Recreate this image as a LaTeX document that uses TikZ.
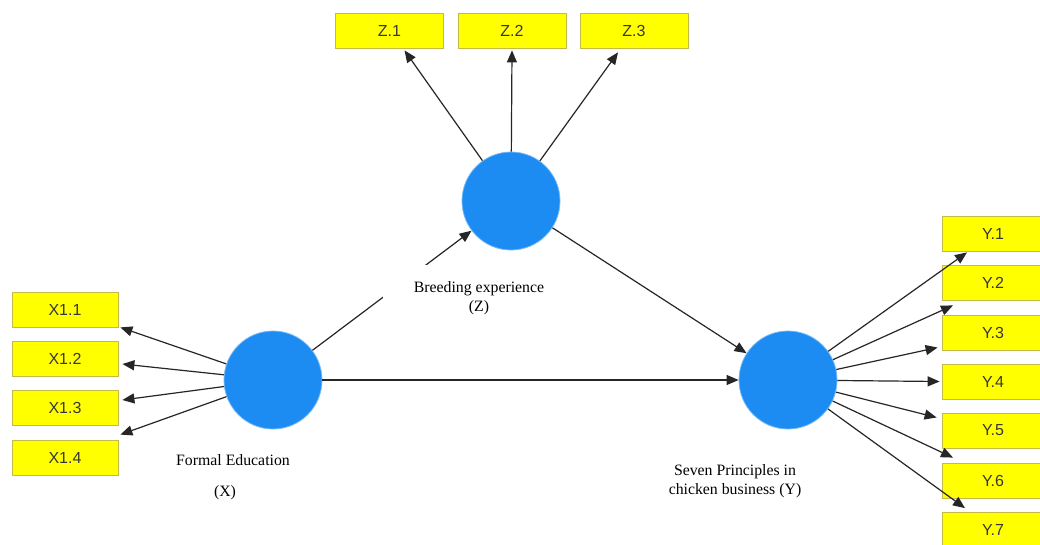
\documentclass[tikz,border=0pt]{standalone}
\usepackage{fontspec}
\setmainfont{Liberation Serif}
\setsansfont{Liberation Sans}
\usetikzlibrary{arrows.meta,calc}

\definecolor{latentblue}{RGB}{28,140,242}
\definecolor{itemyellow}{RGB}{255,255,0}
\definecolor{itemborder}{RGB}{196,186,70}
\definecolor{itemtext}{RGB}{55,55,55}

\tikzset{
  latent/.style={circle, fill=latentblue, draw=latentblue!60, line width=0.8pt, minimum size=98pt, inner sep=0pt},
  item/.style={rectangle, fill=itemyellow, draw=itemborder, line width=0.8pt, minimum height=35pt, inner sep=0pt,
    font=\sffamily\fontsize{16}{16}\selectfont, text=itemtext},
  loading/.style={line width=1.2pt, black!85, -{Triangle[length=12pt,width=10pt]}},
  caption/.style={font=\fontsize{15.8}{19}\selectfont, align=center},
}

\begin{document}
\begin{tikzpicture}[x=1pt,y=-1pt]
			\useasboundingbox[fill=white] (0,0) rectangle (1040,544);
			\clip (0,0) rectangle (1040,544);

			% Latent variables
			\node[latent] (X) at (273,380) {};
			\node[latent] (Z) at (511,201) {};
			\node[latent] (Y) at (788,380) {};

			% Indicators of X
			\node[item, minimum width=106pt] (x11) at (65,309.5) {X1.1};
			\node[item, minimum width=106pt] (x12) at (65,359) {X1.2};
			\node[item, minimum width=106pt] (x13) at (65,408) {X1.3};
			\node[item, minimum width=106pt] (x14) at (65,457.5) {X1.4};

			% Indicators of Z
			\node[item, minimum width=108pt] (z1) at (389.5,30.5) {Z.1};
			\node[item, minimum width=108pt] (z2) at (512,30.5) {Z.2};
			\node[item, minimum width=108pt] (z3) at (634,30.5) {Z.3};

			% Indicators of Y
			\node[item, minimum width=102pt] (y1) at (993,233.5) {Y.1};
			\node[item, minimum width=102pt] (y2) at (993,282.5) {Y.2};
			\node[item, minimum width=102pt] (y3) at (993,332.5) {Y.3};
			\node[item, minimum width=102pt] (y4) at (993,381.5) {Y.4};
			\node[item, minimum width=102pt] (y5) at (993,430.5) {Y.5};
			\node[item, minimum width=102pt] (y6) at (993,480.5) {Y.6};
			\node[item, minimum width=102pt] (y7) at (993,530) {Y.7};

			% Outer loadings
			\draw[loading] (X) -- ($(x11.south east)+(2,0)$);
			\draw[loading] (X) -- ($(x12.east)+(4,5)$);
			\draw[loading] (X) -- ($(x13.east)+(4,-8)$);
			\draw[loading] (X) -- ($(x14.north east)+(2,-5)$);

			\draw[loading] (Z) -- ($(z1.south)+(15,2)$);
			\draw[loading] (Z) -- ($(z2.south)+(0,2)$);
			\draw[loading] (Z) -- ($(z3.south)+(-16,4)$);

			\draw[loading] (Y) -- ($(y1.south)+(-26,1)$);
			\draw[loading] (Y) -- ($(y2.south)+(-40,5)$);
			\draw[loading] (Y) -- ($(y3.west)+(-4,15)$);
			\draw[loading] (Y) -- ($(y4.west)+(-2,0)$);
			\draw[loading] (Y) -- ($(y5.west)+(-5,-13)$);
			\draw[loading] (Y) -- ($(y6.north)+(-40,-5)$);
			\draw[loading] (Y) -- ($(y7.north)+(-28,-4)$);

			% Inner paths
			\draw[loading] (X) -- (Z);
			\draw[loading] (Z) -- (Y);
			\draw[loading] (X) -- (Y);

			% Labels (the white box hides part of the X-Z path)
			\node[caption, fill=white, minimum width=192pt, minimum height=66pt, inner sep=0pt] (zlab) at (479,298)
				{Breeding experience\\(Z)};
			\node[caption] (xlab) at (233,460) {Formal Education};
			\node[caption] (xtag) at (225,493) {(X)};
			\node[caption] (ylab) at (735,481) {Seven Principles in\\chicken business (Y)};
		\end{tikzpicture}
\end{document}
